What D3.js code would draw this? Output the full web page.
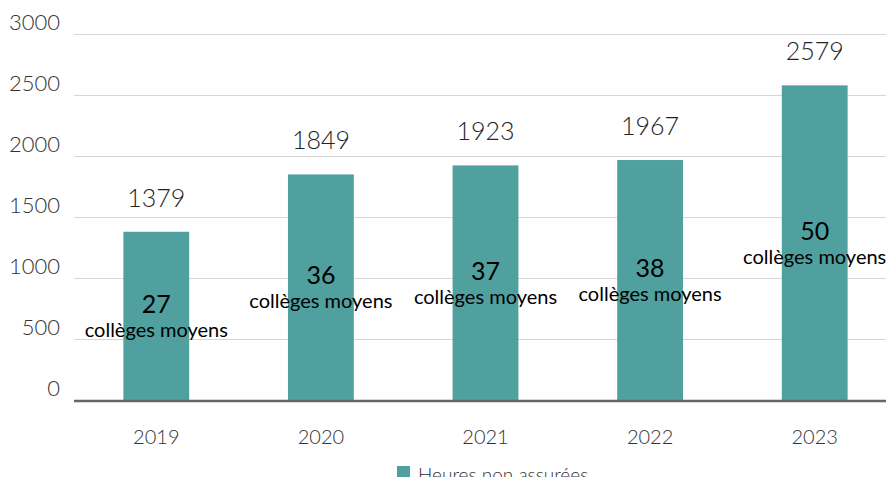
<!DOCTYPE html>
<html>
<head>
<meta charset="utf-8">
<script src="https://cdn.jsdelivr.net/npm/d3@7"></script>
<style>
  body { margin: 0; background: #fff; }
  svg { display: block; font-family: Lato, "Noto Sans", sans-serif; }
</style>
</head>
<body>
<svg id="chart" width="886" height="477"></svg>
<script>
var years = ["2019", "2020", "2021", "2022", "2023"];
var hours = [1379, 1849, 1923, 1967, 2579];
var colleges = [27, 36, 37, 38, 50];
var yTicks = [0, 500, 1000, 1500, 2000, 2500, 3000];
var seriesName = "Heures non assurées";

var svg = d3.select("#chart"),
    width = +svg.attr("width"),
    height = +svg.attr("height");

var color = "#50a0a0";

var x = d3.scaleBand()
    .domain(years)
    .range([74, 897])
    .paddingInner(0.6)
    .paddingOuter(0.3);

var y = d3.scaleLinear()
    .domain([0, 3000])
    .range([400, 34]);

// grid lines + y labels
var grid = svg.append("g");
grid.selectAll("line")
    .data(yTicks.slice(1))
    .enter().append("line")
    .attr("x1", 74)
    .attr("x2", width)
    .attr("y1", function(d) { return y(d) + 0.5; })
    .attr("y2", function(d) { return y(d) + 0.5; })
    .attr("stroke", "#d6d6d6")
    .attr("stroke-width", 1);

grid.selectAll("text")
    .data(yTicks)
    .enter().append("text")
    .attr("x", 60)
    .attr("y", function(d) { return y(d) - 4; })
    .attr("text-anchor", "end")
    .attr("fill", "#333")
    .style("font-size", "22px")
    .style("font-weight", 300)
    .text(function(d) { return d; });

// bars
var bar = svg.selectAll(".bar")
    .data(years)
    .enter().append("g")
    .attr("class", "bar");

bar.append("rect")
    .attr("x", function(d) { return x(d); })
    .attr("width", x.bandwidth())
    .attr("y", function(d, i) { return y(hours[i]); })
    .attr("height", function(d, i) { return y(0) - y(hours[i]); })
    .attr("fill", color);

// value on top
bar.append("text")
    .attr("x", function(d) { return x(d) + x.bandwidth() / 2; })
    .attr("y", function(d, i) { return y(hours[i]) - 25; })
    .attr("text-anchor", "middle")
    .attr("fill", "#222")
    .style("font-size", "25px")
    .style("font-weight", 300)
    .text(function(d, i) { return hours[i]; });

// colleges count inside bar
function mid(i) { return (y(hours[i]) + y(0)) / 2; }

bar.append("text")
    .attr("x", function(d) { return x(d) + x.bandwidth() / 2; })
    .attr("y", function(d, i) { return mid(i) - 3; })
    .attr("text-anchor", "middle")
    .attr("fill", "#000")
    .style("font-size", "25px")
    .text(function(d, i) { return colleges[i]; });

bar.append("text")
    .attr("x", function(d) { return x(d) + x.bandwidth() / 2; })
    .attr("y", function(d, i) { return mid(i) + 21; })
    .attr("text-anchor", "middle")
    .attr("fill", "#000")
    .style("font-size", "20px")
    .text("collèges moyens");

// baseline
svg.append("line")
    .attr("x1", 74)
    .attr("x2", width)
    .attr("y1", y(0) + 1)
    .attr("y2", y(0) + 1)
    .attr("stroke", "#666")
    .attr("stroke-width", 2.5);

// x labels
svg.append("g").selectAll("text")
    .data(years)
    .enter().append("text")
    .attr("x", function(d) { return x(d) + x.bandwidth() / 2; })
    .attr("y", 444)
    .attr("text-anchor", "middle")
    .attr("fill", "#333")
    .style("font-size", "20px")
    .style("font-weight", 300)
    .text(function(d) { return d; });

// legend
var legend = svg.append("g");
legend.append("rect")
    .attr("x", 397)
    .attr("y", 466)
    .attr("width", 13)
    .attr("height", 13)
    .attr("fill", color);
legend.append("text")
    .attr("x", 418)
    .attr("y", 482)
    .attr("fill", "#333")
    .style("font-size", "19px")
    .style("font-weight", 300)
    .text(seriesName);
</script>
</body>
</html>
